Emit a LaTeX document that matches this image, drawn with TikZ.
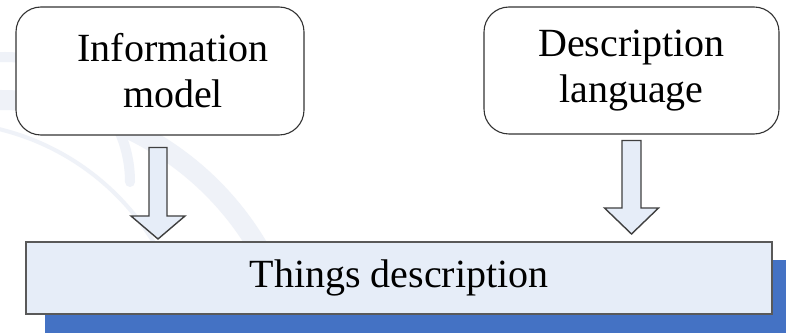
\documentclass[tikz,border=0pt]{standalone}
\usepackage{fontspec}
\setmainfont{Liberation Serif}
\usetikzlibrary{calc}
\definecolor{boxfill}{HTML}{E6EDF8}
\definecolor{shadowblue}{HTML}{4472C4}
\definecolor{wm}{HTML}{EFF2F8}
\tikzset{
  x=1pt, y=1pt,
  roundbox/.style={draw=black!80, line width=1.1pt, rounded corners=25pt, fill=white,
    align=center, inner sep=0pt, font=\fontsize{40}{46}\selectfont},
  thingsbox/.style={draw=black!65, line width=2pt, fill=boxfill, inner sep=0pt,
    font=\fontsize{40}{46}\selectfont},
  blockarrow/.style={draw=black!75, line width=1.4pt, fill=boxfill, line join=miter},
  watermark/.style={draw=wm, line cap=round}
}
\begin{document}
\begin{tikzpicture}
\useasboundingbox (0,0) rectangle (786,332);
\fill[white] (0,0) rectangle (786,332);
% faint background watermark
\begin{scope}
\clip (0,0) rectangle (786,332);
\draw[watermark, line width=20pt] (0,-68) ++(95:300) arc[start angle=95, end angle=30, radius=300];
\draw[watermark, line width=4pt] (-60,-40) ++(80:250) arc[start angle=80, end angle=20, radius=250];
\draw[watermark, line width=10pt] (-120,150) arc[start angle=180, end angle=0, radius=125];
\end{scope}
% nodes
\node[roundbox, minimum width=288, minimum height=128] (info) at (160,261)
  {\hspace*{26pt}Information\\\hspace*{26pt}model};
\node[roundbox, minimum width=295, minimum height=127] (desc) at (631.5,261.5) {Description\\language};
\fill[shadowblue] (45,-5) rectangle (800,72);
\node[thingsbox, minimum width=746, minimum height=72] (things) at (399,54) {Things description};
% block arrows
\coordinate (lt) at ($(info.south)+(-2,-12)$);
\coordinate (rt) at ($(desc.south)+(0,-6)$);
\draw[blockarrow] let \p1=(lt), \p2=(things.north) in
  (\x1-9,\y1) -- (\x1+9,\y1) -- (\x1+9,\y2+25) -- (\x1+27,\y2+25) -- (\x1,\y2+2)
  -- (\x1-27,\y2+25) -- (\x1-9,\y2+25) -- cycle;
\draw[blockarrow] let \p1=(rt), \p2=(things.north) in
  (\x1-9.5,\y1) -- (\x1+9.5,\y1) -- (\x1+9.5,\y2+33) -- (\x1+27,\y2+33) -- (\x1,\y2+7)
  -- (\x1-27,\y2+33) -- (\x1-9.5,\y2+33) -- cycle;
\end{tikzpicture}
\end{document}
